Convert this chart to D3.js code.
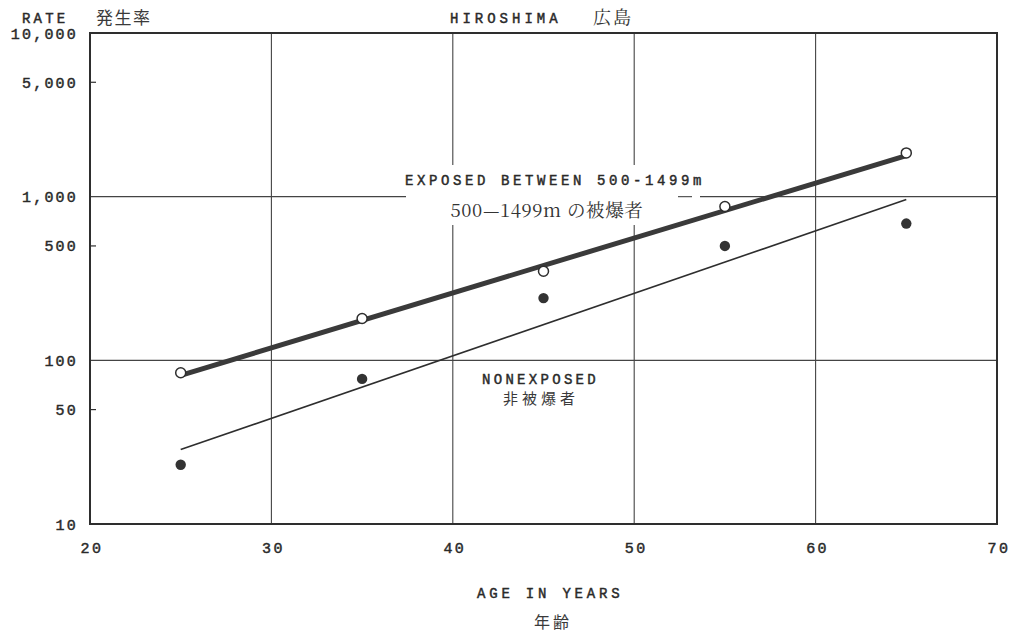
<!DOCTYPE html>
<html>
<head>
<meta charset="utf-8">
<script src="https://cdn.jsdelivr.net/npm/d3@7"></script>
<style>
  html, body { margin: 0; padding: 0; background: #fff; }
  svg { display: block; }
  .lbl { font-family: "Liberation Mono", "DejaVu Sans Mono", monospace; fill: #2a2a2a; stroke: #2a2a2a; stroke-width: 0.45; }
  .jp { font-family: "Noto Sans CJK JP", sans-serif; fill: #3a3a3a; }
  .jps { font-family: "Noto Serif CJK JP", "Liberation Serif", serif; fill: #333; }
</style>
</head>
<body>
<svg id="chart" width="1011" height="634"></svg>
<script>
// Age groups (years)
const ages = [25, 35, 45, 55, 65];
// Incidence rate, exposed between 500-1499m
const exposedRates = [84, 180, 350, 870, 1850];
// Incidence rate, nonexposed
const nonexposedRates = [23, 77, 240, 500, 685];
// Fitted lines: endpoints at ages 25 and 65
const fitAges = [25, 65];
const exposedFit = [81, 1780];
const nonexposedFit = [28.5, 960];
// Axis ticks
const xTicks = [20, 30, 40, 50, 60, 70];
const yTicks = [10, 50, 100, 500, 1000, 5000, 10000];
const yTickLabels = ["10", "50", "100", "500", "1,000", "5,000", "10,000"];
const xGrid = [30, 40, 50, 60];
const yGrid = [100, 1000];
const yMinor = [50, 500, 5000];

const svg = d3.select("#chart");
const ink = "#2e2e2e";

const x = d3.scaleLinear().domain([20, 70]).range([90, 997]);
const y = d3.scaleLog().domain([10, 10000]).range([524, 33]);

// Grid lines
svg.append("g").selectAll("line").data(xGrid).join("line")
  .attr("x1", d => x(d)).attr("x2", d => x(d))
  .attr("y1", y(10000)).attr("y2", y(10))
  .attr("stroke", "#444").attr("stroke-width", 1.1);
svg.append("g").selectAll("line").data(yGrid).join("line")
  .attr("x1", x(20)).attr("x2", x(70))
  .attr("y1", d => y(d)).attr("y2", d => y(d))
  .attr("stroke", "#444").attr("stroke-width", 1.1);

// Short inner ticks at 50, 500, 5000
svg.append("g").selectAll("line").data(yMinor).join("line")
  .attr("x1", x(20)).attr("x2", x(20) + 6)
  .attr("y1", d => y(d)).attr("y2", d => y(d))
  .attr("stroke", ink).attr("stroke-width", 1.2);

// Frame
svg.append("rect")
  .attr("x", x(20)).attr("y", y(10000))
  .attr("width", x(70) - x(20)).attr("height", y(10) - y(10000))
  .attr("fill", "none").attr("stroke", ink).attr("stroke-width", 2);

// Label box for the exposed series, breaking the 1,000 grid line
svg.append("rect")
  .attr("x", 406).attr("y", 165).attr("width", 294).attr("height", 60)
  .attr("fill", "#fff");
svg.append("line")
  .attr("x1", 678).attr("x2", 692).attr("y1", y(1000)).attr("y2", y(1000))
  .attr("stroke", "#444").attr("stroke-width", 1.1);

// Fitted lines
const line = d3.line().x(d => x(d[0])).y(d => y(d[1]));
svg.append("path")
  .attr("d", line(fitAges.map((a, i) => [a, nonexposedFit[i]])))
  .attr("fill", "none").attr("stroke", ink).attr("stroke-width", 1.6);
svg.append("path")
  .attr("d", line(fitAges.map((a, i) => [a, exposedFit[i]])))
  .attr("fill", "none").attr("stroke", "#3a3a3a").attr("stroke-width", 5);

// Points
svg.append("g").selectAll("circle").data(ages).join("circle")
  .attr("cx", d => x(d)).attr("cy", (d, i) => y(nonexposedRates[i]))
  .attr("r", 5.2).attr("fill", "#333");
svg.append("g").selectAll("circle").data(ages).join("circle")
  .attr("cx", d => x(d)).attr("cy", (d, i) => y(exposedRates[i]))
  .attr("r", 5).attr("fill", "#fff").attr("stroke", ink).attr("stroke-width", 1.5);

// Y tick labels
svg.append("g").selectAll("text").data(yTicks).join("text")
  .attr("class", "lbl")
  .attr("x", 78).attr("y", d => y(d) + 5.5)
  .attr("text-anchor", "end")
  .attr("font-size", 15).attr("letter-spacing", 2.2)
  .text((d, i) => yTickLabels[i]);

// X tick labels
svg.append("g").selectAll("text").data(xTicks).join("text")
  .attr("class", "lbl")
  .attr("x", d => x(d) + 2).attr("y", 553)
  .attr("text-anchor", "middle")
  .attr("font-size", 15).attr("letter-spacing", 2.4)
  .text(d => d);

// Titles and annotations
function txt(cls, tx, ty, size, spacing, s, anchor) {
  svg.append("text").attr("class", cls)
    .attr("x", tx).attr("y", ty)
    .attr("font-size", size).attr("letter-spacing", spacing)
    .attr("text-anchor", anchor || "middle")
    .text(s);
}
txt("lbl", 22, 23, 14, 3.2, "RATE", "start");
txt("jp", 96, 24, 17, 1.5, "発生率", "start");
txt("lbl", 450, 23, 14, 4, "HIROSHIMA", "start");
txt("jps", 593, 24, 18, 2, "広島", "start");
txt("lbl", 405, 185, 14, 3.6, "EXPOSED BETWEEN 500-1499m", "start");
txt("jps", 547, 217, 18.5, 0.6, "500\u20141499m の被爆者");
txt("lbl", 482, 384, 14, 3.3, "NONEXPOSED", "start");
txt("jp", 541, 404, 15, 4, "非被爆者");
txt("lbl", 477, 598, 14, 3.8, "AGE IN YEARS", "start");
txt("jp", 553, 628, 16, 3, "年齢");
</script>
</body>
</html>
